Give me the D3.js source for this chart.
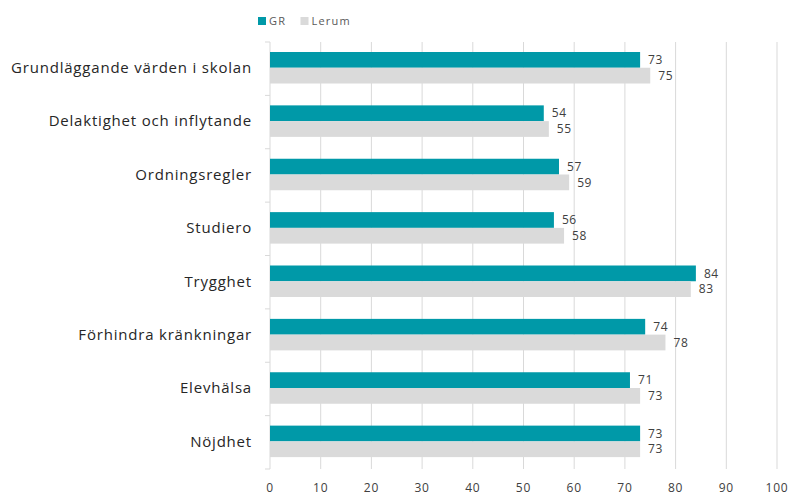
<!DOCTYPE html>
<html>
<head>
<meta charset="utf-8">
<script src="https://cdn.jsdelivr.net/npm/d3@7"></script>
<style>
  body { margin: 0; background: #fff; }
  svg { font-family: "Open Sans", "Noto Sans", sans-serif; }
</style>
</head>
<body>
<div id="chart"></div>
<script>
const categories = ["Grundläggande värden i skolan", "Delaktighet och inflytande", "Ordningsregler", "Studiero",
  "Trygghet", "Förhindra kränkningar", "Elevhälsa", "Nöjdhet"];
const series = ["GR", "Lerum"];
const grValues = [73, 54, 57, 56, 84, 74, 71, 73];
const lerumValues = [75, 55, 59, 58, 83, 78, 73, 73];
const xTicks = [0, 10, 20, 30, 40, 50, 60, 70, 80, 90, 100];
const colors = ["#0099a8", "#dadada"];

const width = 792, height = 495;
const margin = { top: 42, right: 15, bottom: 26, left: 270 };

const svg = d3.select("#chart").append("svg")
  .attr("width", width)
  .attr("height", height);

const x = d3.scaleLinear().domain([0, 100]).range([margin.left, 777]);
const y = d3.scaleBand().domain(categories).range([margin.top, 469]);
const ySub = d3.scaleBand().domain(series).range([0, 31.5]);
const groupOffset = 10;

// vertical gridlines
svg.append("g")
  .selectAll("line")
  .data(xTicks.slice(1))
  .join("line")
  .attr("x1", d => x(d)).attr("x2", d => x(d))
  .attr("y1", margin.top).attr("y2", 469)
  .attr("stroke", "#d9d9d9")
  .attr("stroke-width", 1);

// left axis line and tick marks
const boundaries = categories.map(c => y(c)).concat([469]);
svg.append("line")
  .attr("x1", x(0)).attr("x2", x(0))
  .attr("y1", margin.top).attr("y2", 469)
  .attr("stroke", "#d9d9d9");
svg.append("g")
  .selectAll("line")
  .data(boundaries)
  .join("line")
  .attr("x1", x(0) - 5).attr("x2", x(0))
  .attr("y1", d => d).attr("y2", d => d)
  .attr("stroke", "#d9d9d9");

// bars
const rows = categories.map((c, i) => ({ cat: c, vals: [grValues[i], lerumValues[i]] }));
const groups = svg.append("g")
  .selectAll("g")
  .data(rows)
  .join("g")
  .attr("transform", d => `translate(0,${y(d.cat) + groupOffset})`);

groups.selectAll("rect")
  .data(d => d.vals.map((v, j) => ({ key: series[j], v, j })))
  .join("rect")
  .attr("x", x(0))
  .attr("y", d => ySub(d.key))
  .attr("width", d => x(d.v) - x(0))
  .attr("height", ySub.bandwidth())
  .attr("fill", d => colors[d.j]);

groups.selectAll("text")
  .data(d => d.vals.map((v, j) => ({ key: series[j], v, j })))
  .join("text")
  .attr("x", d => x(d.v) + 8)
  .attr("y", d => ySub(d.key) + ySub.bandwidth() / 2)
  .attr("dy", "0.35em")
  .attr("font-size", 12)
  .attr("letter-spacing", 0.6)
  .attr("fill", "#404040")
  .text(d => d.v);

// category labels
svg.append("g")
  .selectAll("text")
  .data(categories)
  .join("text")
  .attr("x", 252)
  .attr("y", d => y(d) + groupOffset + 15.75)
  .attr("dy", "0.35em")
  .attr("text-anchor", "end")
  .attr("font-size", 15)
  .attr("letter-spacing", 0.8)
  .attr("fill", "#262626")
  .text(d => d);

// x tick labels
svg.append("g")
  .selectAll("text")
  .data(xTicks)
  .join("text")
  .attr("x", d => x(d))
  .attr("y", 488)
  .attr("dy", "0.35em")
  .attr("text-anchor", "middle")
  .attr("font-size", 12)
  .attr("letter-spacing", 0.8)
  .attr("fill", "#404040")
  .text(d => d);

// legend
const legend = svg.append("g").attr("transform", "translate(258,17)");
const legendX = [0, 42.5];
series.forEach((s, i) => {
  legend.append("rect")
    .attr("x", legendX[i]).attr("y", 0)
    .attr("width", 8).attr("height", 8)
    .attr("fill", colors[i]);
  legend.append("text")
    .attr("x", legendX[i] + 11).attr("y", 4)
    .attr("dy", "0.35em")
    .attr("font-size", 11)
    .attr("letter-spacing", 1.2)
    .attr("fill", "#595959")
    .text(s);
});
</script>
</body>
</html>
